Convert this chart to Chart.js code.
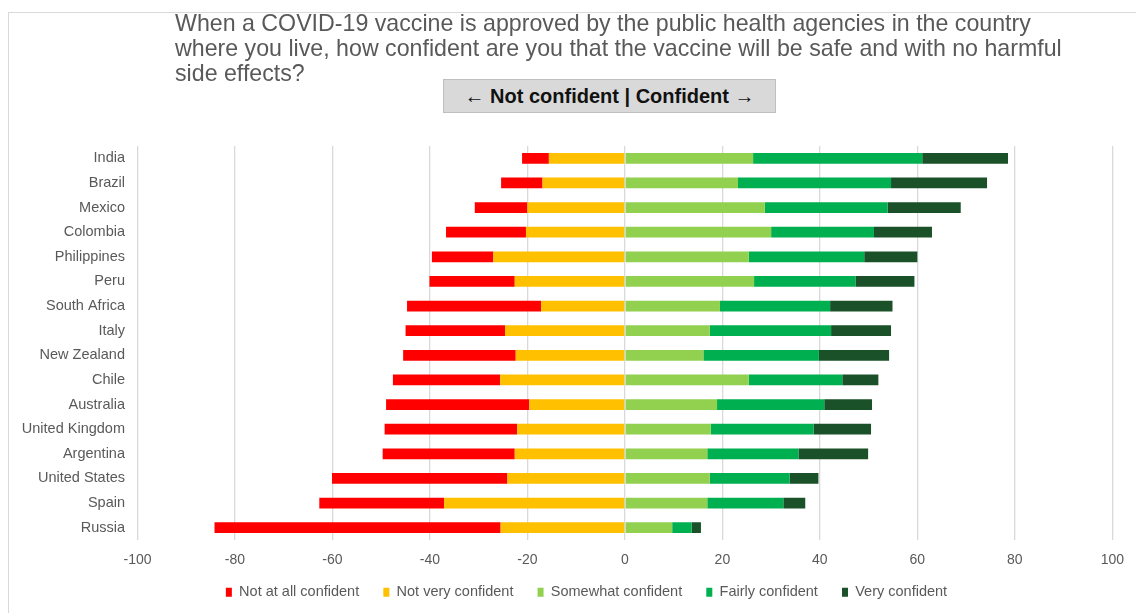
<!DOCTYPE html>
<html>
<head>
<meta charset="utf-8">
<script src="https://cdn.jsdelivr.net/npm/chart.js@4"></script>
<style>
  html, body { margin: 0; padding: 0; background: #fff; overflow: hidden; }
  body { width: 1136px; height: 613px; position: relative; font-family: "Liberation Sans", Arial, sans-serif; }
  #frame { position: absolute; left: 8px; top: 12px; width: 1140px; height: 620px; border: 1px solid #d9d9d9; }
  #question { position: absolute; left: 175px; top: 11px; font-size: 23.2px; line-height: 25px; color: #595959; white-space: nowrap; }
  #direction { position: absolute; left: 443px; top: 79px; width: 331px; height: 32px; background: #d9d9d9; border: 1px solid #bfbfbf;
    font-weight: bold; font-size: 20px; line-height: 32px; text-align: center; color: #111; }
  #chart { position: absolute; left: 0; top: 0; }
</style>
</head>
<body>
<div id="frame"></div>
<canvas id="chart" width="1136" height="613"></canvas>
<div id="question">When a COVID-19 vaccine is approved by the public health agencies in the country<br>where you live, how confident are you that the vaccine will be safe and with no harmful<br>side effects?</div>
<div id="direction">&larr; Not confident | Confident &rarr;</div>
<script>
// ===== DATA (percent of respondents) =====
const countries = ['India', 'Brazil', 'Mexico', 'Colombia', 'Philippines', 'Peru', 'South Africa', 'Italy',
  'New Zealand', 'Chile', 'Australia', 'United Kingdom', 'Argentina', 'United States', 'Spain', 'Russia'];
const notAtAll = [5.5, 8.5, 10.8, 16.4, 12.6, 17.5, 27.5, 20.4, 23.1, 22.0, 29.4, 27.2, 27.1, 36.0, 25.6, 58.7];
const notVery  = [15.6, 16.9, 20.0, 20.3, 27.0, 22.6, 17.2, 24.6, 22.4, 25.6, 19.6, 22.1, 22.6, 24.1, 37.1, 25.5];
const somewhat = [26.3, 23.2, 28.7, 30.0, 25.4, 26.5, 19.5, 17.4, 16.1, 25.4, 18.9, 17.6, 16.9, 17.4, 16.9, 9.7];
const fairly   = [34.7, 31.4, 25.2, 21.1, 23.7, 20.8, 22.6, 24.9, 23.7, 19.2, 22.0, 21.1, 18.7, 16.4, 15.6, 4.0];
const very     = [17.6, 19.7, 15.0, 11.9, 10.9, 12.1, 12.8, 12.3, 14.4, 7.4, 9.8, 11.8, 14.3, 5.9, 4.5, 1.9];
const xTicks = [-100, -80, -60, -40, -20, 0, 20, 40, 60, 80, 100];

const grey = '#595959';
const font = "'Liberation Sans', Arial, sans-serif";

// "not" answers go left of zero; the nearer-to-zero one must come first so it stacks first
const datasets = [
  { label: 'Not very confident', data: notVery.map(v => -v), backgroundColor: '#ffc000' },
  { label: 'Not at all confident', data: notAtAll.map(v => -v), backgroundColor: '#ff0000' },
  { label: 'Somewhat confident', data: somewhat, backgroundColor: '#92d050' },
  { label: 'Fairly confident', data: fairly, backgroundColor: '#00b050' },
  { label: 'Very confident', data: very, backgroundColor: '#1a5128' }
].map(d => ({ ...d, borderWidth: 0, categoryPercentage: 1, barPercentage: 0.44 }));

const legendRank = [1, 0, 2, 3, 4];

// legend sits a bit right of the page centre in the original
const legendShift = {
  id: 'legendShift',
  afterLayout(chart) { if (chart.legend) chart.legend.left = 60.5; }
};

new Chart(document.getElementById('chart'), {
  type: 'bar',
  data: { labels: countries, datasets },
  plugins: [legendShift],
  options: {
    indexAxis: 'y',
    responsive: false,
    animation: false,
    devicePixelRatio: 1,
    layout: { padding: { top: 146, left: 0, right: 23.5, bottom: 3.5 } },
    plugins: {
      tooltip: { enabled: false },
      legend: {
        position: 'bottom',
        labels: {
          color: grey,
          font: { family: font, size: 14.5 },
          boxWidth: 6,
          boxHeight: 9,
          padding: 8,
          sort: (a, b) => legendRank[a.datasetIndex] - legendRank[b.datasetIndex],
          generateLabels(chart) {
            const items = Chart.defaults.plugins.legend.labels.generateLabels(chart);
            items.forEach(it => { if (it.datasetIndex !== 4) it.text += '    '; });
            return items;
          }
        }
      }
    },
    scales: {
      x: {
        stacked: true,
        min: -100,
        max: 100,
        afterBuildTicks: s => { s.ticks = xTicks.map(v => ({ value: v })); },
        afterFit: s => { s.height = 37; },
        grid: { color: '#d9d9d9', lineWidth: 1.3, drawTicks: false },
        border: { display: false },
        ticks: { color: grey, font: { family: font, size: 14 }, padding: 12 }
      },
      y: {
        stacked: true,
        afterFit: s => { s.width = 137.5; },
        grid: { display: false, drawTicks: false },
        border: { display: false },
        ticks: { color: grey, font: { family: font, size: 14.5 }, padding: 12.5 }
      }
    }
  }
});
</script>
</body>
</html>
